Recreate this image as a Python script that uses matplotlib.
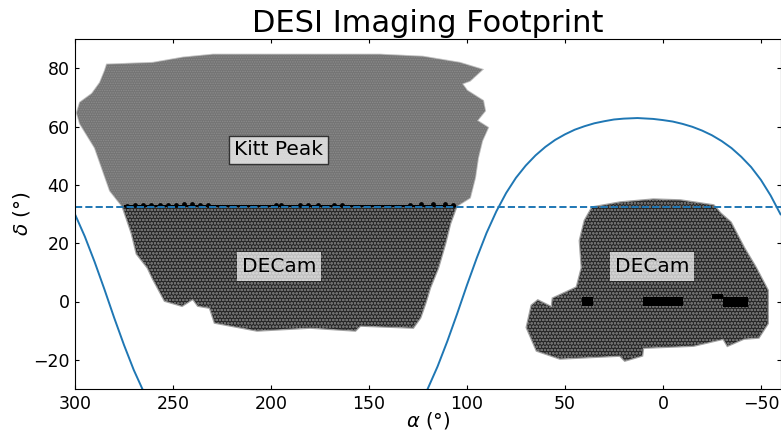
import matplotlib
matplotlib.use('Agg')
import matplotlib.pyplot as plt

# footprint outlines (ra, dec)
kitt_ra = [275.5, 282.1, 289.8, 297.4, 299, 297.4, 291.3, 287.2, 284.7, 283.7, 260.2, 244.9, 229.6, 190.3, 169.9,
           144.4, 122.4, 103.6, 92.3, 98.5, 102.6, 100, 91.8, 90.8, 94.9, 89.3, 92.3, 94.4, 95.9, 98.5, 106.1]
kitt_dec = [32.4, 38, 52.7, 61, 64.7, 68.2, 71.2, 75, 79.1, 81.2, 81.8, 83.6, 84.6, 84.6, 84.6,
            84.6, 83.9, 81.8, 79.5, 75.7, 74.7, 72.3, 68.8, 65.4, 62, 59.6, 55.1, 49.3, 42.5, 35.6, 32.4]

decam_n_ra = [275.5, 270.9, 268.4, 262.8, 260.2, 254.1, 245.4, 239.8, 237.2, 231.1, 228.6, 207.1, 180, 157, 154.5,
              127.5, 123.9, 121.4, 118.9, 114.8, 111.2, 108.7, 105.6]
decam_n_dec = [32.4, 23.3, 16.4, 11.6, 7.9, 0.3, -1.4, 1, -1.4, -2.1, -7.2, -9.9, -8.9, -9.9, -8.2,
               -8.9, -5.5, -0.7, 4.8, 11.6, 19.9, 26.7, 32.4]

decam_s_ra = [36, 21.7, 4.9, -8.9, -25.8, -29.4, -34.5, -41.2, -47.3, -53.4, -53.4, -48.8, -41.2, -33, -30.9, -15.6,
              10.2, 10.7, 19.4, 21.9, 52.6, 64.3, 69.4, 66.9, 63.8, 56.6, 56.1, 43.9, 41.3, 42.3, 39.8]
decam_s_dec = [32.2, 33.9, 34.9, 34.6, 32.9, 30.1, 27.1, 18.5, 11.6, 3.8, -7.5, -12.3, -12.7, -15.1, -12.7, -15.1,
               -15.8, -18.5, -20.2, -18.5, -19.5, -16.8, -8.9, -1.4, 0.3, -2.1, 1, 4.8, 11.6, 20.9, 27.7]

# black overlap blobs along the Kitt Peak / DECam boundary
blob_ra = [273.5, 269.4, 265.3, 261.2, 256.6, 252.5, 248.4, 244.3, 240.3, 236.2, 232.1, 197.5, 194.9,
           185, 181, 176, 168, 164, 129, 123.5, 117.5, 111, 107]
blob_dec = [32.8, 33.0, 33.0, 33.0, 33.2, 33.2, 33.2, 33.4, 33.4, 33.2, 33.2, 33.2, 33.0,
            33.2, 33.2, 33.2, 33.2, 33.0, 33.2, 33.4, 33.4, 33.4, 33.2]
boundary_ra = [274.5, 106]
boundary_dec = [32.9, 32.9]

# black patches in the southern region
block_ra_lo = [35.7, -10.2, -30.6, -43.4]
block_ra_hi = [41.3, 10.2, -25, -30.6]
block_dec_lo = [-1.4, -1.4, 1, -2]
block_dec_hi = [1.4, 1.4, 2.7, 1.4]

# galactic plane
gal_ra_left = [300, 295, 290, 285, 280, 275, 270, 265]
gal_dec_left = [29.9, 22.3, 13.6, 4.2, -5.6, -14.9, -23.5, -30.9]
gal_ra_right = [120, 115, 110, 105, 100, 95, 90, 85, 80, 75, 70, 65, 60, 55, 50, 45, 40, 35, 30, 25, 20, 13, 5,
                0, -5, -10, -15, -20, -25, -30, -35, -40, -45, -50, -55, -60]
gal_dec_right = [-29.9, -22.3, -13.6, -4.2, 5.6, 14.9, 23.5, 30.9, 37.2, 42.4, 46.6, 50.1, 53.0, 55.4, 57.3, 58.9,
                 60.1, 61.1, 61.8, 62.4, 62.7, 62.9, 62.6, 62.2, 61.7, 60.9, 59.9, 58.6, 57.0, 55.0, 52.6, 49.6,
                 46.1, 41.7, 36.3, 29.9]
bass_dec = 32.375

plt.rcParams['hatch.linewidth'] = 0.7
fig = plt.figure(figsize=(7.81, 4.30), dpi=100)
ax = fig.add_axes([75 / 781, 1 - 389 / 430, 705.5 / 781, 350 / 430])

# soft edge first, then the tile texture
ax.fill(kitt_ra, kitt_dec, facecolor='#7b7b7b', edgecolor='#7b7b7b', alpha=0.5, lw=1.5, zorder=1)
ax.fill(kitt_ra, kitt_dec, facecolor='#747474', edgecolor='#8c8c8c', hatch='.......', lw=0, zorder=1.1)
for ra, dec in [(decam_n_ra, decam_n_dec), (decam_s_ra, decam_s_dec)]:
    ax.fill(ra, dec, facecolor='#444444', edgecolor='#444444', alpha=0.5, lw=2, zorder=1.2)
    ax.fill(ra, dec, facecolor='#262626', edgecolor='#6e6e6e', hatch='ooooo', lw=0, zorder=1.3)

ax.plot(boundary_ra, boundary_dec, color='k', lw=1.5, zorder=1.5)
ax.scatter(blob_ra, blob_dec, s=12, color='k', lw=0, zorder=1.5)
for i in range(len(block_ra_lo)):
    ax.fill_between([block_ra_lo[i], block_ra_hi[i]], block_dec_lo[i], block_dec_hi[i], color='k', lw=0, zorder=1.5)

ax.plot(gal_ra_left, gal_dec_left, color='C0', lw=1.4, zorder=2)
ax.plot(gal_ra_right, gal_dec_right, color='C0', lw=1.4, zorder=2)
ax.axhline(bass_dec, color='C0', ls='--', lw=1.4, zorder=2)

ax.text(196, 52, 'Kitt Peak', fontsize=14.5, ha='center', va='center', zorder=3,
        bbox=dict(facecolor='white', alpha=0.7, edgecolor='k', pad=3.5))
ax.text(196, 12, 'DECam', fontsize=14.5, ha='center', va='center', zorder=3,
        bbox=dict(facecolor='white', alpha=0.7, edgecolor='none', pad=3.5))
ax.text(5.5, 12, 'DECam', fontsize=14.5, ha='center', va='center', zorder=3,
        bbox=dict(facecolor='white', alpha=0.7, edgecolor='none', pad=3.5))

ax.set_xlim(300, -60)
ax.set_ylim(-30, 90)
ax.set_xticks([300, 250, 200, 150, 100, 50, 0, -50])
ax.set_yticks([-20, 0, 20, 40, 60, 80])
ax.tick_params(direction='in', top=True, right=True, labelsize=12.5, length=3, pad=4)
ax.set_xlabel(r'$\alpha$ (°)', fontsize=14, labelpad=-1.5)
ax.set_ylabel(r'$\delta$ (°)', fontsize=14.5, labelpad=0.5)
ax.set_title('DESI Imaging Footprint', fontsize=22, pad=5)

fig.savefig('out.png', dpi=100)
